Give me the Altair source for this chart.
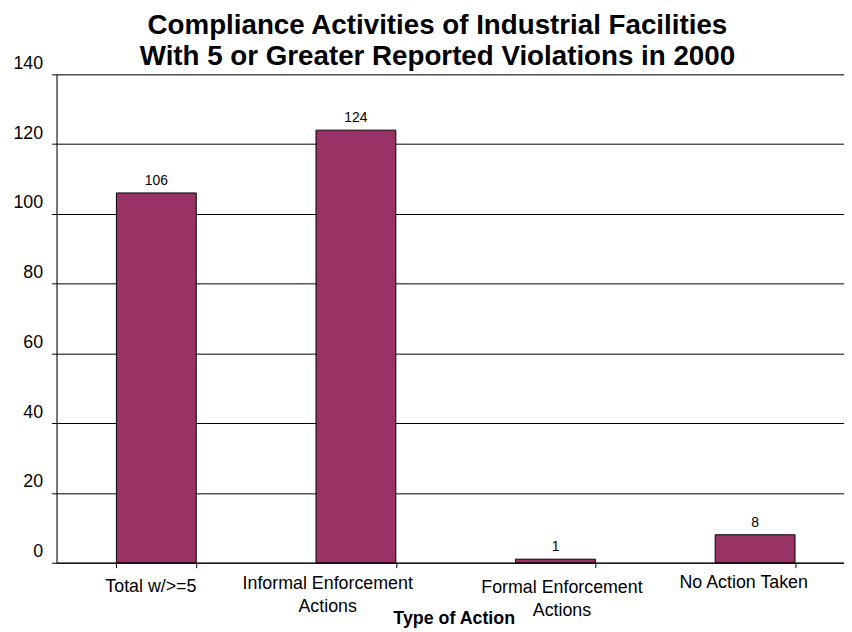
import altair as alt
import pandas as pd

categories = ["Total  w/>=5", "Informal Enforcement|Actions", "Formal Enforcement|Actions", "No Action Taken"]
values = [106, 124, 1, 8]
y_ticks = [0, 20, 40, 60, 80, 100, 120, 140]
title_lines = ["Compliance Activities of Industrial Facilities", "With 5 or Greater Reported Violations in 2000"]

df = pd.DataFrame({"action": categories, "count": values})

FONT = "Liberation Sans"
BAR = "#993366"

x_axis = alt.Axis(
    title="Type of Action",
    labelAngle=0,
    labelFont=FONT,
    labelFontSize=18,
    labelColor="black",
    labelLineHeight=23,
    labelExpr="split(datum.label, '|')",
    labelBaseline="top",
    labelPadding={
        "condition": [
            {"test": f"datum.value == '{categories[0]}'", "value": 10},
            {"test": f"datum.value == '{categories[2]}'", "value": 11},
            {"test": f"datum.value == '{categories[3]}'", "value": 6},
        ],
        "value": 7,
    },
    labelOffset={
        "condition": [
            {"test": f"datum.value == '{categories[0]}'", "value": -6},
            {"test": f"datum.value == '{categories[1]}'", "value": -29},
            {"test": f"datum.value == '{categories[2]}'", "value": 6},
            {"test": f"datum.value == '{categories[3]}'", "value": -12},
        ],
        "value": 0,
    },
    tickBand="extent",
    tickSize=5,
    tickColor="black",
    domainColor="black",
    grid=False,
    titleFont=FONT,
    titleFontSize=18,
    titleFontWeight="bold",
    titleColor="black",
    titleX=401,
    titleY=61,
    titleAlign="center",
    titleBaseline="alphabetic",
    titleAnchor="start",
)

y_axis = alt.Axis(
    title=None,
    values=y_ticks,
    labelFont=FONT,
    labelFontSize=18,
    labelColor="black",
    labelBaseline="alphabetic",
    labelOffset=-6,
    labelPadding=9,
    tickSize=5,
    tickColor="black",
    domainColor="black",
    grid=True,
    gridColor="black",
    gridWidth=1,
)

bars = alt.Chart(df).mark_bar(color=BAR, stroke="black", strokeWidth=1).encode(
    x=alt.X("action:N", sort=categories,
            scale=alt.Scale(range=[0, 806], paddingInner=0.6, paddingOuter=0.3),
            axis=x_axis),
    y=alt.Y("count:Q", scale=alt.Scale(domain=[0, 140], nice=False), axis=y_axis),
)

labels = alt.Chart(df).mark_text(font=FONT, fontSize=14, color="black",
                                 baseline="alphabetic", dy=-8).encode(
    x=alt.X("action:N", sort=categories),
    y=alt.Y("count:Q"),
    text=alt.Text("count:Q"),
)

chart = alt.layer(bars, labels).properties(
    width=795,
    height=493,
    title=alt.TitleParams(
        text=title_lines,
        font=FONT,
        fontSize=28,
        fontWeight="bold",
        color="black",
        lineHeight=32,
        anchor="middle",
        frame="group",
        dx=-13,
        offset=-17,
    ),
    autosize=alt.AutoSizeParams(type="none"),
    padding={"left": 49, "top": 64, "right": 0, "bottom": 67},
).configure_view(stroke="transparent").configure(background="white")

chart.save("out.html", embed_options={"renderer": "svg", "actions": False})
